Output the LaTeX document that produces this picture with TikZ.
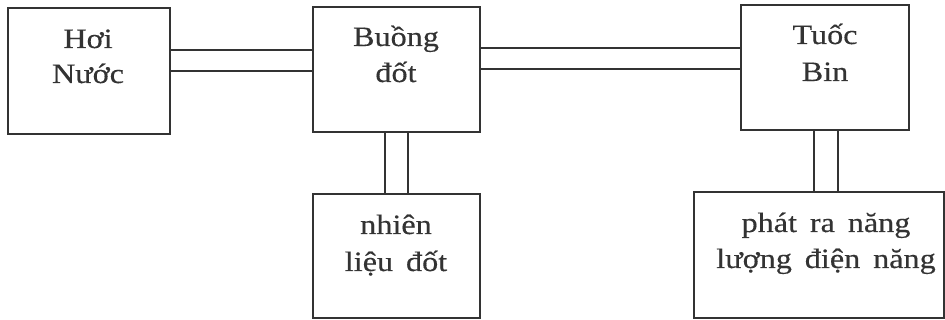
\documentclass[tikz,border=0pt]{standalone}
\usepackage{fontspec}
\setmainfont[FakeStretch=1.15,WordSpace=1.6,FakeBold=0.4]{Liberation Serif}
\definecolor{ink}{HTML}{333333}
\tikzset{
  box/.style={draw=ink, line width=1.6pt, rectangle, inner sep=0pt},
  pipe/.style={draw=ink, line width=1.4pt},
  txt/.style={text=ink, inner sep=0pt, anchor=base, font=\fontsize{28}{34}\selectfont}
}
\begin{document}
\begin{tikzpicture}[x=1pt,y=-1pt]
\useasboundingbox (0,0) rectangle (945,320);
% boxes
\node[box, minimum width=162pt, minimum height=126pt] (b1) at (89,71) {};
\node[box, minimum width=167pt, minimum height=125pt] (b2) at (396.5,69.5) {};
\node[box, minimum width=168pt, minimum height=125pt] (b3) at (825,67.5) {};
\node[box, minimum width=167pt, minimum height=124pt] (b4) at (396.5,256) {};
\node[box, minimum width=250pt, minimum height=126pt] (b5) at (819,255) {};
% texts
\node[txt] (t1a) at (88,48) {Hơi};
\node[txt] (t1b) at (88,83) {Nước};
\node[txt] (t2a) at (396,46) {Buồng};
\node[txt] (t2b) at (396,82) {đốt};
\node[txt] (t3a) at (825,44) {Tuốc};
\node[txt] (t3b) at (825,81) {Bin};
\node[txt] (t4a) at (396,234) {nhiên};
\node[txt] (t4b) at (396,271) {liệu đốt};
\node[txt] (t5a) at (826,232) {phát ra năng};
\node[txt] (t5b) at (826,268) {lượng điện năng};
% double connectors
\draw[pipe] (b1.east |- 0,50) -- (b2.west |- 0,50);
\draw[pipe] (b1.east |- 0,71) -- (b2.west |- 0,71);
\draw[pipe] (b2.east |- 0,48) -- (b3.west |- 0,48);
\draw[pipe] (b2.east |- 0,69) -- (b3.west |- 0,69);
\draw[pipe] (b2.south -| 385,0) -- (b4.north -| 385,0);
\draw[pipe] (b2.south -| 408,0) -- (b4.north -| 408,0);
\draw[pipe] (b3.south -| 814,0) -- (b5.north -| 814,0);
\draw[pipe] (b3.south -| 838,0) -- (b5.north -| 838,0);
\end{tikzpicture}
\end{document}
